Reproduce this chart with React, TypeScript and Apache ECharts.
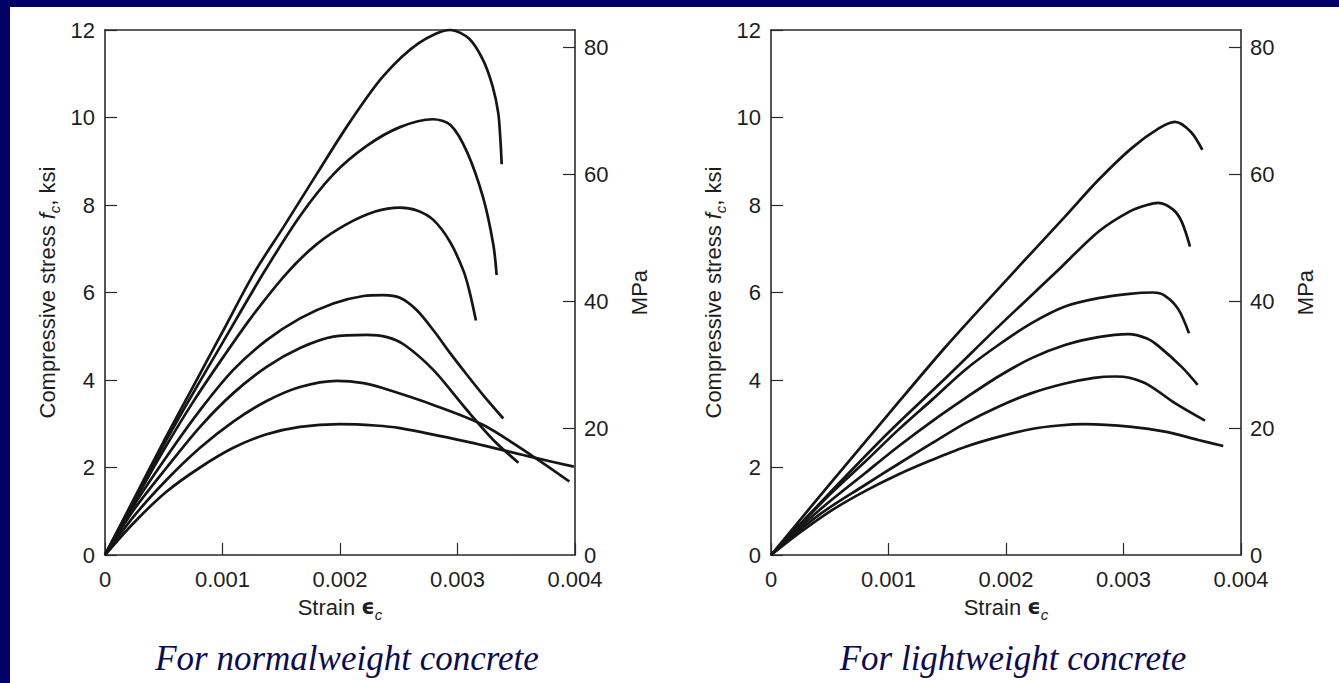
import React, { useEffect, useRef } from "react";
import * as echarts from "echarts";

// Strain in units of 0.001 (axis labels show the real strain), stress in ksi.
const STRAIN_TICKS = [0, 1, 2, 3, 4];
const MPA_TICKS = [0, 20, 40, 60, 80];
const KSI_PER_MPA = 6.894757;

const NORMAL_NAMES = ["3 ksi", "4 ksi", "5 ksi", "6 ksi", "8 ksi", "10 ksi", "12 ksi"];
const nw3 = [[0,0],[0.25,0.75],[0.525,1.45],[0.809,2.0],[1.092,2.45],[1.376,2.76],[1.66,2.93],[2.0,2.99],[2.3,2.96],[2.51,2.9],[3.078,2.59],[3.645,2.23],[3.99,2.02]];
const nw4 = [[0,0],[0.25,0.9],[0.525,1.72],[0.809,2.45],[1.092,3.05],[1.376,3.52],[1.66,3.84],[1.972,3.98],[2.2,3.93],[2.369,3.81],[2.794,3.43],[3.22,2.97],[3.645,2.25],[3.952,1.68]];
const nw5 = [[0,0],[0.25,1.05],[0.525,2.0],[0.809,2.93],[1.092,3.7],[1.376,4.3],[1.66,4.73],[1.943,4.99],[2.227,5.03],[2.4,4.98],[2.55,4.8],[2.794,4.23],[3.078,3.32],[3.305,2.63],[3.518,2.11]];
const nw6 = [[0,0],[0.25,1.15],[0.525,2.25],[0.809,3.31],[1.092,4.23],[1.376,4.91],[1.66,5.41],[1.943,5.75],[2.2,5.92],[2.369,5.94],[2.51,5.88],[2.652,5.6],[2.8,5.12],[2.936,4.62],[3.08,4.12],[3.22,3.65],[3.39,3.12]];
const nw8 = [[0,0],[0.25,1.22],[0.5,2.4],[0.75,3.5],[1.0,4.5],[1.25,5.45],[1.55,6.45],[1.8,7.1],[2.05,7.55],[2.3,7.85],[2.51,7.94],[2.65,7.88],[2.794,7.66],[2.936,7.16],[3.05,6.5],[3.1,6.05],[3.157,5.36]];
const nw10 = [[0,0],[0.25,1.28],[0.5,2.52],[0.75,3.7],[1.0,4.85],[1.35,6.45],[1.66,7.75],[1.943,8.7],[2.227,9.35],[2.51,9.78],[2.79,9.96],[2.94,9.83],[3.08,9.22],[3.22,8.15],[3.305,7.09],[3.333,6.4]];
const nw12 = [[0,0],[0.25,1.3],[0.5,2.6],[0.75,3.85],[1.0,5.1],[1.27,6.45],[1.52,7.5],[1.8,8.7],[2.085,9.9],[2.37,10.95],[2.67,11.7],[2.94,12.0],[3.1,11.8],[3.22,11.3],[3.3,10.7],[3.347,10.1],[3.365,9.5],[3.376,8.93]];

const LIGHT_NAMES = ["3 ksi", "4 ksi", "5 ksi", "6 ksi", "8 ksi", "10 ksi"];
const lw3 = [[0,0],[0.25,0.52],[0.516,1.02],[0.8,1.46],[1.083,1.84],[1.367,2.17],[1.651,2.47],[1.935,2.7],[2.218,2.88],[2.45,2.96],[2.672,2.99],[3.07,2.93],[3.353,2.82],[3.637,2.63],[3.849,2.49]];
const lw4 = [[0,0],[0.4,0.9],[0.8,1.6],[1.083,2.08],[1.367,2.55],[1.651,3.01],[1.935,3.39],[2.218,3.7],[2.502,3.92],[2.75,4.05],[2.928,4.08],[3.05,4.05],[3.211,3.89],[3.438,3.47],[3.694,3.07]];
const lw5 = [[0,0],[0.4,1.0],[0.8,1.87],[1.083,2.48],[1.367,3.05],[1.651,3.58],[1.935,4.08],[2.218,4.5],[2.502,4.8],[2.786,4.98],[3.041,5.05],[3.2,4.95],[3.296,4.78],[3.495,4.3],[3.631,3.89]];
const lw6 = [[0,0],[0.5,1.38],[0.8,2.13],[1.083,2.86],[1.367,3.54],[1.651,4.23],[1.935,4.8],[2.218,5.3],[2.502,5.68],[2.786,5.87],[3.05,5.97],[3.25,6.0],[3.35,5.93],[3.466,5.62],[3.557,5.07]];
const lw8 = [[0,0],[0.5,1.42],[1.0,2.8],[1.5,4.08],[1.935,5.22],[2.42,6.45],[2.786,7.39],[3.05,7.85],[3.2,8.0],[3.296,8.05],[3.42,7.9],[3.495,7.62],[3.566,7.05]];
const lw10 = [[0,0],[0.5,1.62],[1.0,3.22],[1.5,4.8],[2.06,6.45],[2.5,7.73],[2.786,8.57],[3.07,9.3],[3.3,9.75],[3.438,9.9],[3.574,9.67],[3.671,9.26]];

const NORMAL = [nw3, nw4, nw5, nw6, nw8, nw10, nw12];
const LIGHT = [lw3, lw4, lw5, lw6, lw8, lw10];

const TITLES = ["For normalweight concrete", "For lightweight concrete"];

const SANS = '"Liberation Sans", Arial, Helvetica, sans-serif';
const AXIS_COLOR = "#2a2a2a";
const TEXT_COLOR = "#1e1e1e";

const labelStyle = { fontFamily: SANS, fontSize: 22, color: TEXT_COLOR };

const richName = {
  a: { fontFamily: SANS, fontSize: 22, color: TEXT_COLOR, lineHeight: 30 },
  e: { fontFamily: "DejaVu Sans, sans-serif", fontSize: 21, color: TEXT_COLOR, lineHeight: 30, fontWeight: "bold" },
  f: { fontFamily: SANS, fontSize: 22, color: TEXT_COLOR, lineHeight: 30, fontStyle: "italic" },
  s: { fontFamily: SANS, fontSize: 15, color: TEXT_COLOR, lineHeight: 14, verticalAlign: "bottom", fontStyle: "italic" },
};

function xBottom(gridIndex: number) {
  return {
    type: "value",
    gridIndex,
    position: "bottom",
    min: STRAIN_TICKS[0],
    max: STRAIN_TICKS[STRAIN_TICKS.length - 1],
    interval: 1,
    axisLine: { show: true, onZero: false, lineStyle: { color: AXIS_COLOR, width: 1.6 } },
    axisTick: { show: true, inside: true, length: 12, lineStyle: { color: AXIS_COLOR, width: 1.2 } },
    axisLabel: {
      ...labelStyle,
      margin: 13,
      formatter: (v: number) => (v === 0 ? "0" : (v / 1000).toFixed(3)),
    },
    splitLine: { show: false },
    name: "{a|Strain }{e|ϵ}{s|c}",
    nameLocation: "middle",
    nameGap: 37,
    nameTextStyle: { rich: richName },
  };
}

function xTop(gridIndex: number) {
  return {
    type: "value",
    gridIndex,
    position: "top",
    min: STRAIN_TICKS[0],
    max: STRAIN_TICKS[STRAIN_TICKS.length - 1],
    axisLine: { show: true, onZero: false, lineStyle: { color: AXIS_COLOR, width: 1.6 } },
    axisTick: { show: false },
    axisLabel: { show: false },
    splitLine: { show: false },
  };
}

function yKsi(gridIndex: number) {
  return {
    type: "value",
    gridIndex,
    position: "left",
    min: 0,
    max: 12,
    interval: 2,
    axisLine: { show: true, onZero: false, lineStyle: { color: AXIS_COLOR, width: 1.6 } },
    axisTick: { show: true, inside: true, length: 12, lineStyle: { color: AXIS_COLOR, width: 1.2 } },
    axisLabel: { ...labelStyle, margin: 10 },
    splitLine: { show: false },
    name: "{a|Compressive stress }{f|f}{s|c}{a|, ksi}",
    nameLocation: "middle",
    nameGap: 43,
    nameTextStyle: { rich: richName },
  };
}

function yMpa(gridIndex: number) {
  return {
    type: "value",
    gridIndex,
    position: "right",
    min: 0,
    max: 12 * KSI_PER_MPA,
    axisLine: { show: true, onZero: false, lineStyle: { color: AXIS_COLOR, width: 1.6 } },
    axisTick: {
      show: true,
      inside: true,
      length: 12,
      customValues: MPA_TICKS.filter((v) => v > 0),
      lineStyle: { color: AXIS_COLOR, width: 1.2 },
    },
    axisLabel: { ...labelStyle, margin: 9, customValues: MPA_TICKS },
    splitLine: { show: false },
    name: "MPa",
    nameLocation: "middle",
    nameGap: 53,
    nameTextStyle: { fontFamily: SANS, fontSize: 22, color: TEXT_COLOR },
  };
}

function curveSeries(data: number[][], name: string, axisIndex: number) {
  return {
    type: "line",
    name,
    xAxisIndex: axisIndex,
    yAxisIndex: axisIndex,
    data,
    smooth: 0.3,
    showSymbol: false,
    symbol: "none",
    silent: true,
    clip: false,
    lineStyle: { color: "#151515", width: 2.7 },
  };
}

export default function App() {
  const ref = useRef<HTMLDivElement>(null);

  useEffect(() => {
    if (!ref.current) return;
    const chart = echarts.init(ref.current, undefined, { renderer: "svg" });
    const titleStyle = {
      fontFamily: '"Liberation Serif", "Times New Roman", serif',
      fontStyle: "italic",
      fontSize: 35,
      fill: "#0c0c4e",
      align: "center",
      verticalAlign: "middle",
      textAlign: "center",
      textVerticalAlign: "middle",
    };
    const option = {
      animation: false,
      backgroundColor: "transparent",
      grid: [
        { left: 105, top: 30, width: 470, height: 525 },
        { left: 771, top: 30, width: 470, height: 525 },
      ],
      xAxis: [xBottom(0), xTop(0), xBottom(1), xTop(1)],
      yAxis: [yKsi(0), yMpa(0), yKsi(1), yMpa(1)],
      series: [
        ...NORMAL.map((d, i) => curveSeries(d, "NW " + NORMAL_NAMES[i], 0)),
        ...LIGHT.map((d, i) => curveSeries(d, "LW " + LIGHT_NAMES[i], 2)),
      ],
      graphic: [
        { type: "text", x: 347, y: 658, silent: true, style: { ...titleStyle, text: TITLES[0] } },
        { type: "text", x: 1013, y: 658, silent: true, style: { ...titleStyle, text: TITLES[1] } },
      ],
    };
    chart.setOption(option as any);
    return () => chart.dispose();
  }, []);

  return (
    <div
      style={{
        position: "absolute",
        left: 0,
        top: 0,
        width: 1339,
        height: 683,
        background:
          "linear-gradient(#ffffff, #ffffff) no-repeat 10px 7px / 1329px 676px, #000066",
      }}
    >
      <div ref={ref} style={{ width: 1339, height: 683 }} />
    </div>
  );
}
